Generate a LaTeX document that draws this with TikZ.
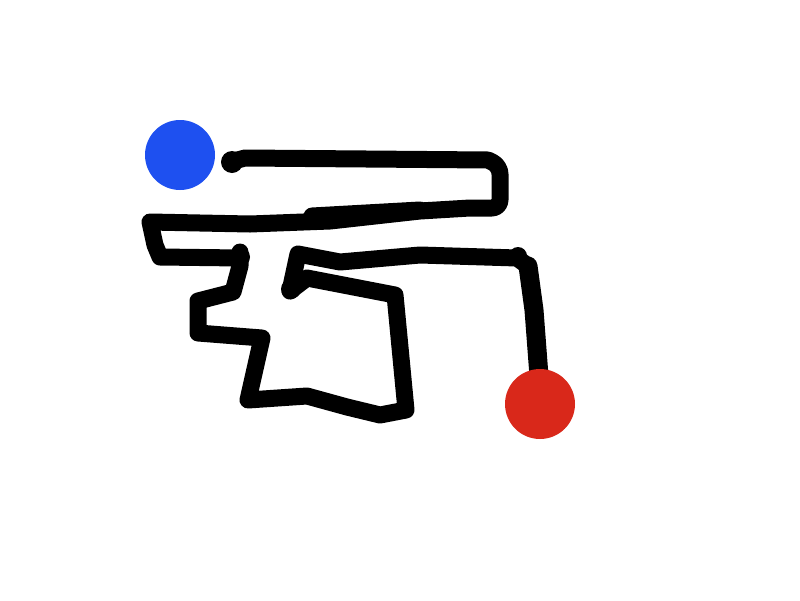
\documentclass[tikz,border=0pt]{standalone}
\begin{document}
\begin{tikzpicture}[x=1pt,y=-1pt,
  stroke/.style={line width=17pt,line cap=round,line join=round,black},
  blob/.style={circle,fill=black,inner sep=0pt,minimum size=#1},
  dot/.style={circle,minimum size=70pt,inner sep=0pt}]
\useasboundingbox (0,0) rectangle (800,600);
\fill[white] (0,0) rectangle (800,600);
\coordinate (s) at (230,162);
\coordinate (e) at (539,376);
\draw[stroke] (s) -- (245,158) -- (488,160) [rounded corners=8pt] -- (500,166) -- (500,208) [sharp corners] -- (470,208)
  -- (420,211) -- (330,221) -- (250,224) -- (150,222)
  -- (155,245) -- (160,257) -- (240,258) -- (240,252) -- (240,266)
  -- (233,292) -- (198,301) -- (198,333) -- (262,338) -- (248,400)
  -- (307,396) -- (347,407) -- (380,415) -- (406,410) -- (395,295)
  -- (307,278) -- (290,291) -- (298,254) -- (340,262) -- (420,255)
  -- (517,258) -- (528,266);
\draw[stroke] (312,216) -- (420,210);
\draw[line width=19pt,line cap=round,line join=round] (528,266) -- (534,310) -- (e);
\node[blob=22pt] (b1) at (232,162) {};
\node[blob=20pt] (b2) at (240,257) {};
\node[blob=20pt] (b3) at (291,289) {};
\node[blob=18pt] (b4) at (518,256) {};
\node[dot,fill={rgb,255:red,30;green,80;blue,240}] (blue) at (180,155) {};
\node[dot,fill={rgb,255:red,217;green,40;blue,26}] (red) at (540,404) {};
\end{tikzpicture}
\end{document}
